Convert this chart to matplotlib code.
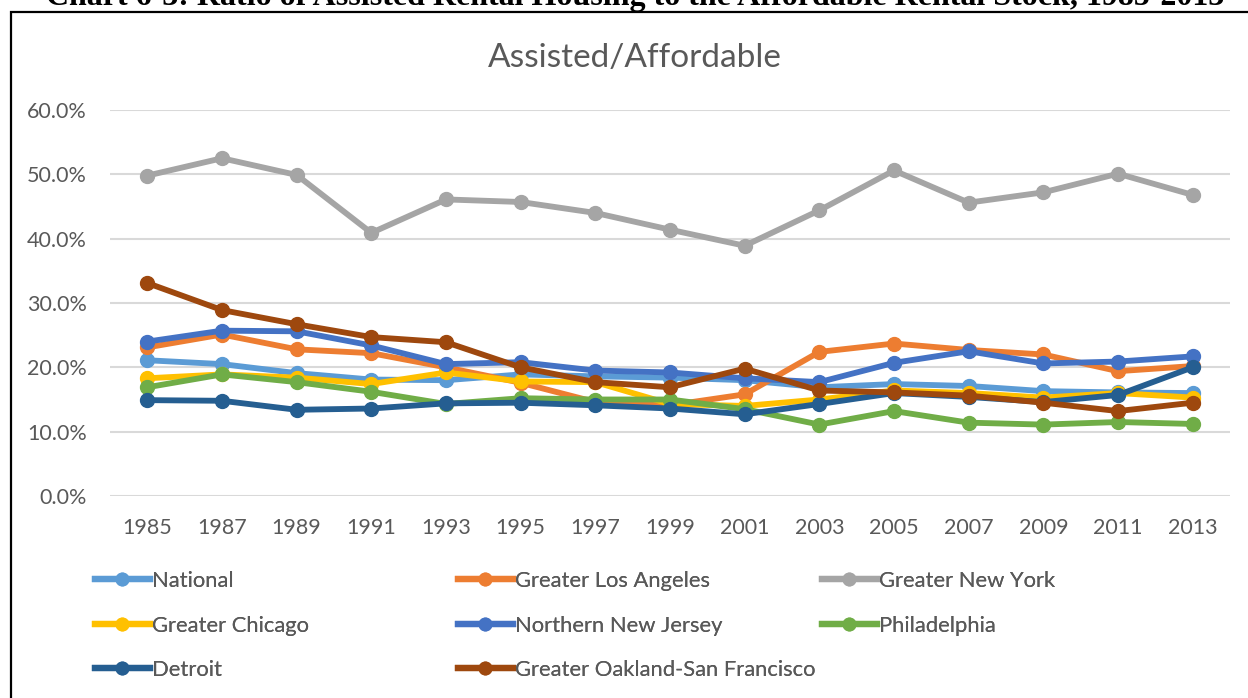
import numpy as np
import matplotlib.pyplot as plt
from matplotlib.patches import Rectangle
from matplotlib.lines import Line2D

# Data (ratio of assisted rental housing to affordable rental stock)
years = ['1985', '1987', '1989', '1991', '1993', '1995', '1997', '1999',
         '2001', '2003', '2005', '2007', '2009', '2011', '2013']

national = [21.1, 20.5, 19.1, 18.1, 18.0, 18.9, 18.6, 18.4, 18.0, 16.9, 17.4, 17.1, 16.3, 16.1, 16.0]
los_angeles = [23.1, 25.1, 22.8, 22.2, 20.0, 17.6, 14.6, 14.1, 15.8, 22.4, 23.7, 22.7, 22.0, 19.4, 20.2]
new_york = [49.8, 52.5, 49.9, 40.9, 46.1, 45.7, 44.0, 41.4, 38.9, 44.4, 50.6, 45.6, 47.2, 50.1, 46.8]
chicago = [18.3, 18.9, 18.4, 17.4, 19.2, 17.8, 17.7, 14.3, 14.0, 15.0, 16.4, 16.0, 15.3, 16.0, 15.3]
new_jersey = [24.0, 25.7, 25.6, 23.4, 20.5, 20.8, 19.5, 19.2, 18.3, 17.7, 20.7, 22.5, 20.6, 20.9, 21.7]
philadelphia = [16.9, 18.9, 17.7, 16.2, 14.3, 15.2, 15.0, 15.0, 13.5, 11.1, 13.2, 11.4, 11.1, 11.5, 11.2]
detroit = [14.9, 14.8, 13.4, 13.6, 14.4, 14.5, 14.1, 13.6, 12.7, 14.3, 16.0, 15.4, 14.6, 15.7, 20.0]
oakland_sf = [33.1, 28.9, 26.7, 24.7, 23.9, 20.0, 17.7, 16.9, 19.8, 16.4, 16.1, 15.6, 14.5, 13.2, 14.5]

series_names = ['National', 'Greater Los Angeles', 'Greater New York', 'Greater Chicago',
                'Northern New Jersey', 'Philadelphia', 'Detroit', 'Greater Oakland-San Francisco']
series_values = [national, los_angeles, new_york, chicago, new_jersey, philadelphia, detroit, oakland_sf]
colors = ['#5B9BD5', '#ED7D31', '#A5A5A5', '#FFC000', '#4472C4', '#70AD47', '#255E91', '#9E480E']

plt.rcParams['font.family'] = ['Lato', 'DejaVu Sans']
gray_text = '#595959'

fig = plt.figure(figsize=(12.48, 6.98), dpi=100)
ax = fig.add_axes([110 / 1248, 1 - 496 / 698, 1120 / 1248, 386 / 698])

x = np.arange(len(years))
for name, vals, c in zip(series_names, series_values, colors):
    ax.plot(x, np.array(vals) / 100, color=c, lw=4.2, marker='o', ms=10,
            solid_capstyle='round', label=name)

ax.set_xlim(-0.5, len(years) - 0.5)
ax.set_ylim(0, 0.6)
ax.set_yticks(np.arange(0, 0.61, 0.1))
ax.set_yticklabels([f'{v:.1f}%' for v in np.arange(0, 61, 10)])
ax.set_xticks(x)
ax.set_xticklabels(years)
ax.tick_params(length=0, labelsize=15.5, colors=gray_text)
ax.tick_params(axis='y', pad=16.5)
ax.tick_params(axis='x', pad=16)
ax.grid(axis='y', color='#D9D9D9', lw=1.5)
ax.set_axisbelow(True)
for s in ax.spines.values():
    s.set_visible(False)

# Chart title inside the box
fig.text(635 / 1248, 1 - 58 / 698, 'Assisted/Affordable', ha='center', va='center',
         fontsize=24, color=gray_text)

# Document caption, cut off at the top as in the source page
fig.text(635 / 1248, 1 - 5 / 698,
         'Chart 6-3: Ratio of Assisted Rental Housing to the Affordable Rental Stock, 1985-2013',
         ha='center', va='baseline', fontsize=23, fontweight='bold',
         family='Liberation Serif', color='black')

# Border around the chart
fig.add_artist(Rectangle((11 / 1248, -0.1), 1.2, 1.1 - 12 / 698, transform=fig.transFigure,
                         fill=False, ec='black', lw=1.6))

# Legend: three columns laid out row by row
order = [[0, 3, 6], [1, 4, 7], [2, 5]]
col_x = [95, 458, 822]
for cx, idx in zip(col_x, order):
    hs = [Line2D([], [], color=colors[i], lw=4.5, marker='o', ms=9) for i in idx]
    leg = fig.legend(hs, [series_names[i] for i in idx], loc='upper left',
                     bbox_to_anchor=(cx / 1248, 1 - 571 / 698), frameon=False,
                     fontsize=15.8, labelcolor=gray_text, handlelength=2.5,
                     handletextpad=0.12, labelspacing=1.12, borderaxespad=0,
                     borderpad=0)
    fig.add_artist(leg)

fig.savefig('out.png', dpi=100)
